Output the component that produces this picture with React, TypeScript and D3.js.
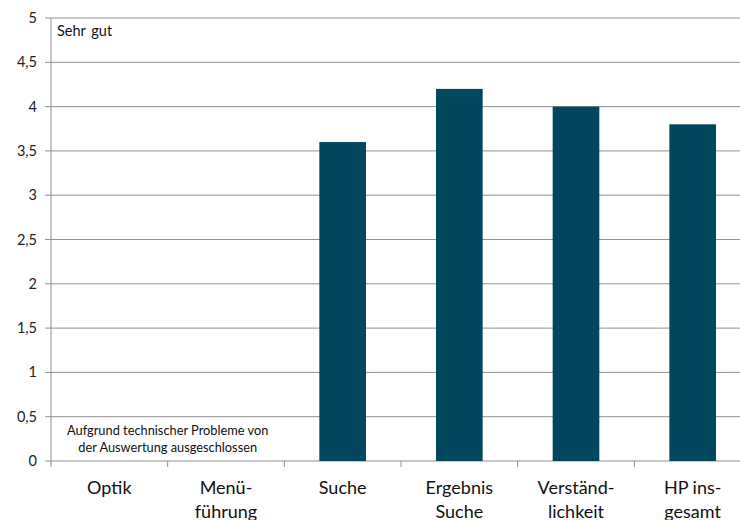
import React from "react";
import * as d3 from "d3";

const categories: string[][] = [
  ["Optik"],
  ["Menü-", "führung"],
  ["Suche"],
  ["Ergebnis", "Suche"],
  ["Verständ-", "lichkeit"],
  ["HP ins-", "gesamt"],
];
const values: (number | null)[] = [null, null, 3.6, 4.2, 4.0, 3.8];
const yTicks: number[] = [0, 0.5, 1, 1.5, 2, 2.5, 3, 3.5, 4, 4.5, 5];
const topNote = "Sehr gut";
const noteLines = ["Aufgrund technischer Probleme von", "der Auswertung ausgeschlossen"];

const W = 740;
const H = 520;
const left = 51;
const right = 751;
const top = 18;
const bottom = 461;
const font = "Lato, 'Noto Sans', sans-serif";

export default function App() {
  const x = d3.scaleBand<number>().domain(d3.range(categories.length)).range([left, right]).paddingInner(0.6).paddingOuter(0.3);
  const band = d3.scaleBand<number>().domain(d3.range(categories.length)).range([left, right]);
  const y = d3.scaleLinear().domain([0, 5]).range([bottom, top]);
  const fmt = (v: number) => String(v).replace(".", ",");
  const noteX = (band(0)! + band(1)! + band.bandwidth()) / 2;
  return (
    <svg width={W} height={H} style={{ position: "absolute", left: 0, top: 0, background: "#fff" }}>
      {yTicks.map((t) => (
        <g key={t}>
          <line x1={left - 6} x2={right} y1={y(t)} y2={y(t)} stroke="#8f8f8f" strokeWidth={1} />
          <text x={left - 14} y={y(t)} dy="0.35em" textAnchor="end" fontFamily={font} fontSize={14.5} fill="#222">
            {fmt(t)}
          </text>
        </g>
      ))}
      <line x1={left} x2={left} y1={top} y2={bottom} stroke="#8f8f8f" strokeWidth={1} />
      {d3.range(categories.length + 1).map((i) => {
        const xx = i < categories.length ? band(i)! : right;
        return <line key={i} x1={xx} x2={xx} y1={bottom} y2={bottom + 6} stroke="#8f8f8f" strokeWidth={1} />;
      })}
      {values.map((v, i) =>
        v == null ? null : (
          <rect key={i} x={x(i)!} y={y(v)} width={x.bandwidth()} height={y(0) - y(v)} fill="#00475f" />
        )
      )}
      {categories.map((lines, i) => (
        <text key={i} x={band(i)! + band.bandwidth() / 2} y={494} textAnchor="middle" fontFamily={font} fontSize={18} fill="#111">
          {lines.map((l, j) => (
            <tspan key={j} x={band(i)! + band.bandwidth() / 2} dy={j === 0 ? 0 : 24}>
              {l}
            </tspan>
          ))}
        </text>
      ))}
      <text x={57} y={36} fontFamily={font} fontSize={14.5} fill="#111" wordSpacing={2}>
        {topNote}
      </text>
      <text x={noteX} y={435} textAnchor="middle" fontFamily={font} fontSize={12.8} fill="#111">
        {noteLines.map((l, j) => (
          <tspan key={j} x={noteX} dy={j === 0 ? 0 : 17}>
            {l}
          </tspan>
        ))}
      </text>
    </svg>
  );
}
